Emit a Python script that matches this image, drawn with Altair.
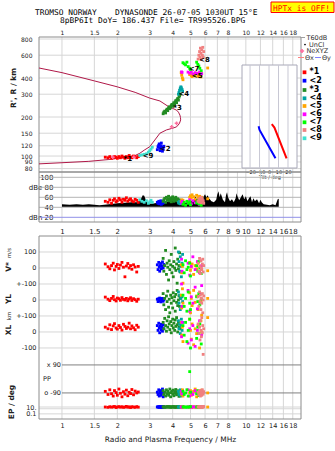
import math
import altair as alt
import pandas as pd

OX, OY = 39, 37          # plot origin on the page
W, H = 262, 382          # whole plotting group

# ---------------- axes values ----------------
freq_ticks_top = [1, 1.5, 2, 3, 4, 5, 6, 7, 8, 10, 12, 14, 16, 18]
freq_ticks_mid = [1, 1.5, 2, 3, 4, 5, 6, 7, 8, 9, 10, 12, 14, 16, 18]
freq_ticks_bot = [1, 1.5, 2, 3, 4, 5, 6, 7, 8, 10, 12, 14, 16, 18]
height_ticks = [80, 90, 100, 120, 150, 200, 300, 400, 600, 800]
dbe_ticks = [20, 40, 60, 80, 100]
tilt_ticks = [-20, -10, 0, 10, 20]
low_ticks = [100, 0, -100, -200, -300, -400, -500, -869, -912]
low_labels = ['100', '0', '+-100', '0', '+-100', '0', '-100', '10.', '0.1']

# ---------------- model curve ----------------
curve_f = [0.75, 1.0, 1.4, 1.8, 2.0, 2.34, 2.5, 2.65, 2.8, 3.0, 3.2, 3.41, 3.7, 4.0, 4.2, 4.35, 4.42,
           4.41, 4.38, 4.3, 4.2, 4.0, 3.86, 3.41, 3.0, 2.5, 2.0, 1.5, 1.0, 0.75]
curve_h = [87, 88.8, 91, 94, 96, 99, 101, 105, 111, 118, 133, 150, 159, 164, 168, 178, 190,
           198, 207, 218, 226, 233, 237, 266, 280, 310, 342, 380, 440, 478]

nexyz_f = [1.89, 2.46, 3.95, 4.2]
nexyz_h = [98, 98, 168, 179]

# ---------------- tilt inset ----------------
tilt_x_tilt = [-11, -10, 6.8]
tilt_x_h = [170, 159, 96]
tilt_y_tilt = [2.9, 5.7, 18.5]
tilt_y_h = [176, 166, 96]

# ---------------- noise (T60dB) ----------------
noise_f = [1.0, 1.1, 1.2, 1.3, 1.4, 1.5, 1.6, 1.7, 1.8, 1.9, 2.0, 2.2, 2.4, 2.6, 2.7, 2.75, 2.8, 2.85, 2.9,
           3.0, 3.2, 3.4, 3.6, 3.8, 4.0, 4.2, 4.4, 4.6, 4.8, 5.0, 5.2, 5.3, 5.4, 5.6, 5.8, 5.9, 6.0, 6.1,
           6.2, 6.3, 6.5, 6.7, 6.9, 7.0, 7.1, 7.2, 7.3, 7.5, 7.7, 7.8, 7.9, 8.0, 8.2, 8.4, 8.6, 8.8, 8.9,
           9.0, 9.2, 9.4, 9.6, 9.8, 10.0, 10.2, 10.4, 10.6, 10.8, 11.0, 11.2, 11.5, 11.8, 12.0, 12.2,
           12.5, 13.0, 13.5, 14.0, 14.5, 14.7, 14.9, 15.1]
noise_db = [46, 45, 46, 45, 46, 45, 44, 45, 46, 47, 48, 49, 50, 50, 58, 64, 63, 56, 50,
            47, 48, 50, 49, 52, 55, 53, 50, 48, 50, 52, 55, 62, 56, 58, 54, 62, 66, 60,
            64, 58, 52, 50, 55, 66, 72, 60, 68, 55, 50, 64, 70, 60, 52, 56, 50, 58, 68,
            62, 54, 60, 66, 56, 62, 52, 58, 62, 50, 58, 52, 56, 48, 55, 50,
            46, 45, 44, 46, 44, 50, 56, 57]

# ---------------- echo clusters ----------------
names = ['*1', '<2', '*3', '<4', '<5', '<6', '<7', '<8', '<9']
colors = ['#ff0000', '#0000ff', '#228b22', '#00a3a3', '#ffa500', '#ff00ff', '#00ff00', '#f08080', '#40e0d0']

red_f = [1.72, 1.78, 1.82, 1.86, 1.9, 1.93, 1.97, 2.0, 2.04, 2.08, 2.12, 2.16, 2.2, 2.24, 2.28, 2.32, 2.36, 2.4, 2.45, 2.5, 2.55, 2.6]
red_h = [98, 97, 99, 96, 97, 99, 98, 96, 99, 97, 100, 98, 96, 99, 97, 101, 98, 97, 100, 99, 97, 99]
red_db = [52, 50, 55, 48, 54, 57, 51, 53, 58, 55, 50, 56, 54, 59, 52, 55, 57, 53, 51, 56, 54, 50]
red_v = [25, 8, -5, 15, 30, -12, 10, 22, -3, 18, 35, 5, -55, 12, 28, 0, 15, -8, 20, 6, -25, 10]
red_yl = [18, 5, -4, 10, 22, 2, -6, 12, 8, -2, 15, 4, 0, 10, -5, 6, 14, -3, 8, 2, -8, 5]
red_xl = [30, 20, 45, 15, 38, 52, 25, 18, 40, 28, 12, 48, 35, 22, 30, 55, 20, 38, 26, 14, 42, 30]
red_pp = [-80, -100, -70, -95, -110, -75, -88, -105, -65, -92, -115, -82, -98, -72, -108, -86, -94, -68, -102, -78, -90, -84]
red_ep = [10, 8, 12, 9, 11, 14, 7, 10, 13, 9, 12, 8, 10, 15, 9, 11, 7, 12, 10, 8, 13, 9]

blue_f = [3.3, 3.33, 3.36, 3.38, 3.4, 3.42, 3.45, 3.47, 3.5, 3.52, 3.55, 3.58]
blue_h = [112, 118, 121, 124, 115, 110, 120, 126, 117, 109, 114, 119]
blue_db = [50, 48, 52, 47, 51, 49, 53, 46, 50, 48, 52, 49]
blue_v = [20, -10, 35, 5, -20, 15, 28, -5, 10, 38, 0, 22]
blue_yl = [5, -10, 8, -5, 12, 0, -12, 6, -3, 10, -8, 2]
blue_xl = [40, 10, 55, 25, -5, 35, 48, 15, 30, 5, 45, 20]
blue_pp = [-85, -100, -70, -110, -90, -75, -105, -95, -80, -65, -115, -88]
blue_ep = [10, 12, 8, 11, 9, 13, 10, 7, 12, 9, 11, 10]

green_f = [3.55, 3.58, 3.62, 3.66, 3.7, 3.73, 3.76, 3.8, 3.83, 3.86, 3.9, 3.93, 3.96, 4.0, 4.03, 4.06, 4.1, 4.13, 4.16, 4.2, 4.23, 4.26, 4.3, 4.33, 4.36, 4.4]
green_h = [212, 218, 222, 215, 226, 230, 224, 235, 240, 232, 238, 245, 250, 242, 252, 258, 250, 262, 268, 258, 272, 278, 270, 285, 292, 300]
green_db = [52, 55, 58, 50, 60, 54, 57, 62, 53, 56, 59, 51, 55, 61, 57, 52, 58, 54, 60, 56, 53, 57, 50, 55, 52, 54]
green_v = [60, -20, 15, 110, -40, 30, 5, -75, 45, -10, 20, 85, -30, 10, -55, 40, 0, 125, -15, 25, -95, 55, -5, 15, 95, -25]
green_yl = [40, -30, 10, -60, 25, -10, 55, -45, 5, -80, 30, -20, 15, -50, 45, -5, 20, -70, 35, -15, 60, -35, 0, 25, -40, 10]
green_xl = [60, 20, 85, 40, 5, 70, 30, 95, 50, 15, 65, -5, 40, 80, 25, 55, 10, 75, 35, 90, 45, 0, 60, 30, 50, 20]
green_pp = [-75, -100, -85, -110, -70, -95, -80, -105, -90, -65, -115, -88, -78, -98, -72, -108, -82, -92, -68, -102, -86, -96, -76, -112, -84, -90]
green_ep = [10, 12, 8, 11, 9, 13, 10, 14, 9, 11, 8, 12, 10, 9, 13, 11, 10, 8, 12, 9, 11, 10, 13, 9, 12, 10]

teal_f = [4.3, 4.33, 4.36, 4.4, 4.43, 4.46, 4.5, 4.53]
teal_h = [300, 310, 322, 334, 342, 336, 326, 316]
teal_db = [50, 48, 52, 47, 51, 49, 53, 48]
teal_v = [100, 40, -20, 70, 10, -55, 30, 85]
teal_yl = [50, -20, 30, -60, 10, -40, 20, -10]
teal_xl = [70, 20, 50, -10, 40, 80, 10, 60]
teal_pp = [-80, -100, -90, -70, -110, -85, -95, -75]
teal_ep = [10, 12, 9, 11, 8, 13, 10, 11]

orange_f = [4.45, 4.48, 4.52, 4.55, 4.95, 5.0, 5.05, 5.1, 5.2, 5.3, 5.4, 5.5, 5.6, 5.7, 5.75, 6.2]
orange_h = [440, 420, 400, 388, 425, 432, 418, 410, 428, 415, 436, 412, 420, 408, 430, 478]
orange_db = [52, 55, 50, 54, 60, 63, 58, 65, 61, 56, 64, 59, 62, 57, 60, 57]
orange_v = [20, -30, 10, -95, 35, -15, 5, 25, -40, 15, -5, 30, -25, 10, -10, -17]
orange_yl = [30, -50, 70, -20, 45, -80, 10, -35, 60, -15, 25, -60, 40, -5, -95, 10]
orange_xl = [60, -20, 30, -60, 80, 10, -45, 50, -80, 20, -10, 40, -100, 70, 0, 90]
orange_pp = [-85, -100, -70, -110, -90, -75, -105, -95, -80, -65, -115, -88, -78, -98, -72, -90]
orange_ep = [10, 12, 8, 11, 9, 13, 10, 7, 12, 9, 11, 10, 14, 8, 12, 10]

mag_f = [4.47, 4.5, 4.85, 4.95, 5.05, 5.15, 5.3, 5.45, 5.6, 5.75]
mag_h = [446, 442, 444, 436, 448, 430, 440, 434, 445, 432]
mag_db = [48, 52, 50, 55, 47, 53, 49, 51, 46, 54]
mag_v = [55, -20, 30, -45, 10, 70, -10, 40, -30, 15]
mag_yl = [100, -40, 60, -70, 20, -20, 80, -55, 35, 90]
mag_xl = [-30, 60, -70, 20, -50, 40, -90, 10, 70, -20]
mag_pp = [-80, -95, -70, -110, -88, -100, -75, -92, -105, -85]
mag_ep = [9, 11, 10, 13, 8, 12, 10, 11, 9, 12]

lime_f = [4.55, 4.62, 4.7, 4.78, 4.86, 4.95, 5.0, 5.4, 5.48, 5.55, 5.62, 5.72]
lime_h = [525, 515, 505, 530, 490, 475, 465, 530, 510, 495, 475, 455]
lime_db = [46, 50, 44, 52, 48, 51, 45, 49, 53, 47, 50, 44]
lime_v = [20, -30, 45, -10, 5, 30, -50, 15, -20, 40, 0, -35]
lime_yl = [30, -40, 10, -70, 50, -20, -60, 20, -10, 40, -30, 5]
lime_xl = [40, -20, 60, -60, 10, 80, -100, -40, 30, -10, 50, -75]
lime_pp = [-80, -100, -90, -70, -110, 47, -85, -95, -75, -105, -88, -92]
lime_ep = [10, 12, 8, 11, 9, 10, 13, 10, 12, 9, 11, 8]

sal_f = [5.5, 5.55, 5.6, 5.63, 5.66, 5.7, 5.73, 5.76, 5.8, 5.83, 5.86, 5.9]
sal_h = [560, 600, 640, 580, 680, 620, 560, 660, 600, 690, 580, 640]
sal_db = [52, 56, 50, 58, 54, 60, 49, 55, 57, 51, 53, 48]
sal_v = [30, -20, 60, 10, -35, 45, 0, -10, 25, 55, -25, 15]
sal_yl = [20, -40, 50, -10, 30, -60, 10, -20, 40, -80, 0, 25]
sal_xl = [50, -10, 30, -50, 70, 10, -30, 90, -5, 40, -140, 20]
sal_pp = [-85, -100, -75, -95, -110, -80, -90, -105, -70, -88, -98, -82]
sal_ep = [10, 12, 9, 11, 13, 8, 10, 12, 9, 11, 10, 14]

turq_f = [2.65, 2.72, 2.8, 2.88, 2.95, 3.0, 3.05, 3.1]
turq_h = [101, 102, 103, 104, 107, 110, 113, 117]
turq_db = [55, 52, 50, 53, 48, 51, 54, 50]

trace_lab_t = ['*1', '<9', '<2', '*3', '<4', '<5', '<7', '<8']
trace_lab_f = [2.28, 2.94, 3.64, 4.25, 4.6, 5.44, 5.23, 5.95]
trace_lab_h = [95, 100, 112.6, 233, 299, 414, 470, 550]

legend_y = [72.3, 80.7, 90, 98.3, 106, 114.3, 122.3, 130, 138.3]

# ---------------- tables ----------------
clusters = [
    ('*1', red_f, red_h, red_db, red_v, red_yl, red_xl, red_pp, red_ep),
    ('<9', turq_f, turq_h, turq_db, None, None, None, None, None),
    ('<2', blue_f, blue_h, blue_db, blue_v, blue_yl, blue_xl, blue_pp, blue_ep),
    ('*3', green_f, green_h, green_db, green_v, green_yl, green_xl, green_pp, green_ep),
    ('<4', teal_f, teal_h, teal_db, teal_v, teal_yl, teal_xl, teal_pp, teal_ep),
    ('<5', orange_f, orange_h, orange_db, orange_v, orange_yl, orange_xl, orange_pp, orange_ep),
    ('<6', mag_f, mag_h, mag_db, mag_v, mag_yl, mag_xl, mag_pp, mag_ep),
    ('<7', lime_f, lime_h, lime_db, lime_v, lime_yl, lime_xl, lime_pp, lime_ep),
    ('<8', sal_f, sal_h, sal_db, sal_v, sal_yl, sal_xl, sal_pp, sal_ep),
]
top_rows, low_rows = [], []
for name, fs, hs, dbs, vs, yls, xls, pps, eps in clusters:
    for i, f in enumerate(fs):
        top_rows.append({'c': name, 'f': f, 'h': hs[i], 'db': dbs[i]})
        if vs is not None:
            low_rows.append({'c': name, 'f': f, 'u': vs[i]})
            low_rows.append({'c': name, 'f': f, 'u': yls[i] - 200})
            low_rows.append({'c': name, 'f': f, 'u': xls[i] - 400})
            low_rows.append({'c': name, 'f': f, 'u': -781 + (pps[i] + 90) * 0.972})
            low_rows.append({'c': name, 'f': f, 'u': -869 + 21.5 * math.log10(eps[i] / 10)})
df_top = pd.DataFrame(top_rows)
df_low = pd.DataFrame(low_rows)
df_curve = pd.DataFrame({'f': curve_f, 'h': curve_h, 'o': list(range(len(curve_f)))})
df_noise = pd.DataFrame({'f': noise_f, 'db': noise_db})

# ---------------- scales ----------------
def xs():
    return alt.Scale(type='log', domain=[0.75, 19.95], nice=False)

def ys_top():
    return alt.Scale(type='log', domain=[75.3, 829], range=[135, 0], nice=False)

def ys_db():
    return alt.Scale(domain=[10.6, 110.6], range=[185, 135], nice=False, zero=False)

def ys_low():
    return alt.Scale(domain=[-944, 200], range=[382, 199], nice=False, zero=False)

cscale = alt.Scale(domain=names, range=colors)
LBL = '#202020'

def pix(df):
    d = df.copy()
    d['px'] = d['ax'] - OX
    d['py'] = d['ay'] - OY
    return d

def ptext(df, **mk):
    return alt.Chart(pix(df)).mark_text(**mk).encode(
        x=alt.X('px:Q', scale=None, axis=None),
        y=alt.Y('py:Q', scale=None, axis=None),
        text='t:N')

layers = []

# ---- grids ----
for ticks, y0, y1 in [(freq_ticks_top, 0, 135), (freq_ticks_mid, 135, 185), (freq_ticks_bot, 199, 382)]:
    layers.append(alt.Chart(pd.DataFrame({'f': ticks})).mark_rule(color='#d6d6d6', strokeWidth=1).encode(
        x=alt.X('f:Q', scale=xs(), axis=None), y=alt.value(y0), y2=alt.value(y1)))
layers.append(alt.Chart(pd.DataFrame({'h': height_ticks})).mark_rule(color='#d6d6d6').encode(
    y=alt.Y('h:Q', scale=ys_top(), axis=None), x=alt.value(0), x2=alt.value(W)))
layers.append(alt.Chart(pd.DataFrame({'d': [40, 60, 80, 100]})).mark_rule(color='#b4b4b4').encode(
    y=alt.Y('d:Q', scale=ys_db(), axis=None), x=alt.value(0), x2=alt.value(W)))
layers.append(alt.Chart(pd.DataFrame({'d': [20]})).mark_rule(color='#9090e8').encode(
    y=alt.Y('d:Q', scale=ys_db(), axis=None), x=alt.value(0), x2=alt.value(W)))
layers.append(alt.Chart(pd.DataFrame({'u': [100, 0, -100, -200, -300, -400, -500, -869, -880, -912]})).mark_rule(color='#d6d6d6').encode(
    y=alt.Y('u:Q', scale=ys_low(), axis=None), x=alt.value(0), x2=alt.value(W)))
layers.append(alt.Chart(pd.DataFrame({'u': [-606, -781]})).mark_rule(color='#808080').encode(
    y=alt.Y('u:Q', scale=ys_low(), axis=None), x=alt.value(23), x2=alt.value(W)))

# ---- panel frames ----
frames = pd.DataFrame({'x1': [0, 0, 0], 'x2': [W, W, W], 'y1': [0, 135, 199], 'y2': [135, 185, 382]})
layers.append(alt.Chart(frames).mark_rect(fill='transparent', stroke='#8c8c8c', strokeWidth=1).encode(
    x=alt.X('x1:Q', scale=None, axis=None), x2='x2:Q',
    y=alt.Y('y1:Q', scale=None, axis=None), y2='y2:Q'))

# ---- tilt inset ----
inset_x = lambda: alt.Scale(domain=[-28.5, 29.5], range=[203, 258], nice=False, zero=False)
layers.append(alt.Chart(pd.DataFrame({'x1': [203], 'x2': [258], 'y1': [28], 'y2': [131]})).mark_rect(
    fill='white', stroke='#a8a8b8', strokeWidth=1).encode(
    x=alt.X('x1:Q', scale=None, axis=None), x2='x2:Q',
    y=alt.Y('y1:Q', scale=None, axis=None), y2='y2:Q'))
layers.append(alt.Chart(pd.DataFrame({'t': tilt_ticks})).mark_rule(color='#c8c8d4').encode(
    x=alt.X('t:Q', scale=inset_x(),
            axis=alt.Axis(orient='bottom', offset=-251, values=tilt_ticks, ticks=False, domain=False,
                          grid=False, labelFontSize=5, labelPadding=1, labelColor=LBL, labelFlush=False,
                          labelOverlap=False, title='Tilt / deg', titleFontSize=5, titlePadding=0,
                          titleFontWeight='normal', titleColor=LBL)),
    y=alt.value(28), y2=alt.value(131)))
layers.append(alt.Chart(pd.DataFrame({'t': tilt_x_tilt, 'h': tilt_x_h})).mark_line(color='#0000ff', strokeWidth=2).encode(
    x=alt.X('t:Q', scale=inset_x(), axis=None), y=alt.Y('h:Q', scale=ys_top(), axis=None)))
layers.append(alt.Chart(pd.DataFrame({'t': tilt_y_tilt, 'h': tilt_y_h})).mark_line(color='#ff0000', strokeWidth=2).encode(
    x=alt.X('t:Q', scale=inset_x(), axis=None), y=alt.Y('h:Q', scale=ys_top(), axis=None)))

# ---- model curve (carries the top axes) ----
layers.append(alt.Chart(df_curve).mark_line(color='#b01848', strokeWidth=1).encode(
    x=alt.X('f:Q', scale=xs(),
            axis=alt.Axis(orient='top', values=freq_ticks_top, format='~g', ticks=False, domain=False,
                          grid=False, labelFontSize=6, labelPadding=2, labelColor=LBL,
                          labelOverlap=False, labelFlush=False, title=None)),
    y=alt.Y('h:Q', scale=ys_top(),
            axis=alt.Axis(orient='left', values=height_ticks, format='d', ticks=False, domain=False,
                          grid=False, labelFontSize=6, labelPadding=7, labelColor=LBL,
                          labelOverlap=False, title=None)),
    order='o:Q'))

# ---- noise (carries the middle axes) ----
dbe_expr = "datum.value == 80 ? 'dBe 80' : datum.value == 20 ? 'dBn 20' : datum.label"
layers.append(alt.Chart(df_noise).mark_area(color='black', opacity=1).encode(
    x=alt.X('f:Q', scale=xs(),
            axis=alt.Axis(orient='bottom', offset=-197, values=freq_ticks_mid, format='~g', ticks=False,
                          domain=False, grid=False, labelFontSize=7, labelPadding=5, labelColor=LBL,
                          labelOverlap=False, labelFlush=False, title=None)),
    y=alt.Y('db:Q', scale=ys_db(),
            axis=alt.Axis(orient='left', offset=-16, values=dbe_ticks, labelExpr=dbe_expr, ticks=False,
                          domain=False, grid=False, labelFontSize=7, labelPadding=2, labelColor=LBL,
                          labelOverlap=False, title=None)),
    y2=alt.datum(41)))

# ---- clusters ----
layers.append(alt.Chart(df_top).mark_square(size=8, opacity=1).encode(
    x=alt.X('f:Q', scale=xs(), axis=None), y=alt.Y('h:Q', scale=ys_top(), axis=None),
    color=alt.Color('c:N', scale=cscale, legend=None)))
layers.append(alt.Chart(df_top).mark_square(size=8, opacity=1).encode(
    x=alt.X('f:Q', scale=xs(), axis=None), y=alt.Y('db:Q', scale=ys_db(), axis=None),
    color=alt.Color('c:N', scale=cscale, legend=None)))
low_expr = ''.join("datum.value == %s ? '%s' : " % (v, l) for v, l in zip(low_ticks, low_labels)) + "''"
layers.append(alt.Chart(df_low).mark_square(size=8, opacity=1).encode(
    x=alt.X('f:Q', scale=xs(),
            axis=alt.Axis(orient='bottom', values=freq_ticks_bot, format='~g', ticks=False, domain=False,
                          grid=False, labelFontSize=6.5, labelPadding=3, labelColor=LBL,
                          labelOverlap=False, labelFlush=False,
                          title='Radio and Plasma Frequency / MHz', titleFontSize=7.5,
                          titleFontWeight='normal', titleColor=LBL, titlePadding=7)),
    y=alt.Y('u:Q', scale=ys_low(),
            axis=alt.Axis(orient='left', values=low_ticks, labelExpr=low_expr, ticks=False, domain=False,
                          grid=False, labelFontSize=6.5, labelPadding=3, labelColor=LBL,
                          labelOverlap=False, title=None)),
    color=alt.Color('c:N', scale=cscale, legend=None)))

# ---- NeXYZ markers ----
layers.append(alt.Chart(pd.DataFrame({'f': nexyz_f, 'h': nexyz_h})).mark_point(
    shape='cross', size=14, filled=True, color='#ff70a0', opacity=1).encode(
    x=alt.X('f:Q', scale=xs(), axis=None), y=alt.Y('h:Q', scale=ys_top(), axis=None)))

# ---- trace labels ----
layers.append(alt.Chart(pd.DataFrame({'t': trace_lab_t, 'f': trace_lab_f, 'h': trace_lab_h})).mark_text(
    font='DejaVu Sans', fontWeight='bold', fontSize=7, color='black', align='center', baseline='middle').encode(
    x=alt.X('f:Q', scale=xs(), axis=None), y=alt.Y('h:Q', scale=ys_top(), axis=None), text='t:N'))

# ---- header ----
layers.append(alt.Chart(pix(pd.DataFrame({'ax': [271], 'ay': [2], 'bx': [334], 'by': [12.5]}))
                        .assign(qx=lambda d: d['bx'] - OX, qy=lambda d: d['by'] - OY)).mark_rect(
    fill='#ffff00', stroke='#ff0000', strokeWidth=1).encode(
    x=alt.X('px:Q', scale=None, axis=None), x2='qx:Q', y=alt.Y('py:Q', scale=None, axis=None), y2='qy:Q'))
mono = pd.DataFrame({'t': ['TROMSO NORWAY', 'DYNASONDE 26-07-05 1030UT 15°E',
                           '8pBP6It DoY= 186.437 File= TR995526.BPG'],
                     'ax': [35, 115, 60], 'ay': [15.2, 15.2, 23.4]})
layers.append(ptext(mono, font='DejaVu Sans Mono', fontSize=7.9, align='left', baseline='alphabetic', color='black'))
layers.append(ptext(pd.DataFrame({'t': ['HPTx is OFF!'], 'ax': [273], 'ay': [10.8]}),
                    font='DejaVu Sans Mono', fontSize=7.9, align='left', baseline='alphabetic', color='#ff0000'))

# ---- side titles ----
side = pd.DataFrame({'t': ["R', R / km", 'V*', 'YL', 'XL', 'EP / deg'],
                     'ax': [14, 9, 9, 9, 12], 'ay': [88, 267, 299, 330, 402]})
layers.append(ptext(side, font='DejaVu Sans', fontSize=7.5, fontWeight='bold', angle=270,
                    align='center', baseline='middle', color=LBL))
side2 = pd.DataFrame({'t': ['m/s', 'km'], 'ax': [9, 9], 'ay': [253, 316]})
layers.append(ptext(side2, font='DejaVu Sans', fontSize=5.5, angle=270, align='center', baseline='middle', color=LBL))
inside = pd.DataFrame({'t': ['x 90', 'o -90'], 'ax': [61, 61], 'ay': [365, 393]})
layers.append(ptext(inside, font='DejaVu Sans', fontSize=6.5, align='right', baseline='middle', color=LBL))
layers.append(ptext(pd.DataFrame({'t': ['PP'], 'ax': [43], 'ay': [379]}),
                    font='DejaVu Sans', fontSize=6.5, align='left', baseline='middle', color=LBL))

# ---- legend ----
leg_top = pd.DataFrame({'t': ['T60dB', 'UnCl', 'NeXYZ', 'Θx', 'Θy'],
                        'ax': [306.5, 309, 306.5, 305, 322], 'ay': [37.5, 44.5, 51, 57.5, 57.5]})
layers.append(ptext(leg_top, font='DejaVu Sans', fontSize=6.5, align='left', baseline='middle', color='#303030'))
leg_lines = pd.DataFrame({'ax': [300, 298, 315], 'bx': [305, 304, 321], 'ay': [37.5, 57.5, 57.5],
                          'col': ['#a0a0a0', '#ff8080', '#8080ff']})
leg_lines = pix(leg_lines).assign(qx=lambda d: d['bx'] - OX)
layers.append(alt.Chart(leg_lines).mark_rule(strokeWidth=1).encode(
    x=alt.X('px:Q', scale=None, axis=None), x2='qx:Q', y=alt.Y('py:Q', scale=None, axis=None),
    color=alt.Color('col:N', scale=None, legend=None)))
layers.append(alt.Chart(pix(pd.DataFrame({'ax': [305], 'ay': [44.5]}))).mark_circle(size=3, color='black', opacity=1).encode(
    x=alt.X('px:Q', scale=None, axis=None), y=alt.Y('py:Q', scale=None, axis=None)))
layers.append(alt.Chart(pix(pd.DataFrame({'ax': [302], 'ay': [51]}))).mark_point(
    shape='cross', size=18, filled=True, color='#ff70a0', opacity=1).encode(
    x=alt.X('px:Q', scale=None, axis=None), y=alt.Y('py:Q', scale=None, axis=None)))
leg_sq = pd.DataFrame({'c': names, 'ax': [304.5] * 9, 'ay': legend_y})
layers.append(alt.Chart(pix(leg_sq)).mark_square(size=14, opacity=1).encode(
    x=alt.X('px:Q', scale=None, axis=None), y=alt.Y('py:Q', scale=None, axis=None),
    color=alt.Color('c:N', scale=cscale, legend=None)))
leg_lab = pd.DataFrame({'t': names, 'ax': [309.5] * 9, 'ay': legend_y})
layers.append(ptext(leg_lab, font='DejaVu Sans', fontSize=8, fontWeight='bold', align='left',
                    baseline='middle', color='black'))

chart = alt.layer(*layers).resolve_scale(x='independent', y='independent').properties(
    width=W, height=H,
    padding={'left': OX, 'top': OY, 'right': 335 - OX - W, 'bottom': 451 - OY - H},
    autosize=alt.AutoSizeParams(type='none'),
    background='white',
).configure_view(stroke=None).configure_axis(labelFont='DejaVu Sans', titleFont='DejaVu Sans')

chart.save('out.html', embed_options={'renderer': 'svg', 'actions': False})
